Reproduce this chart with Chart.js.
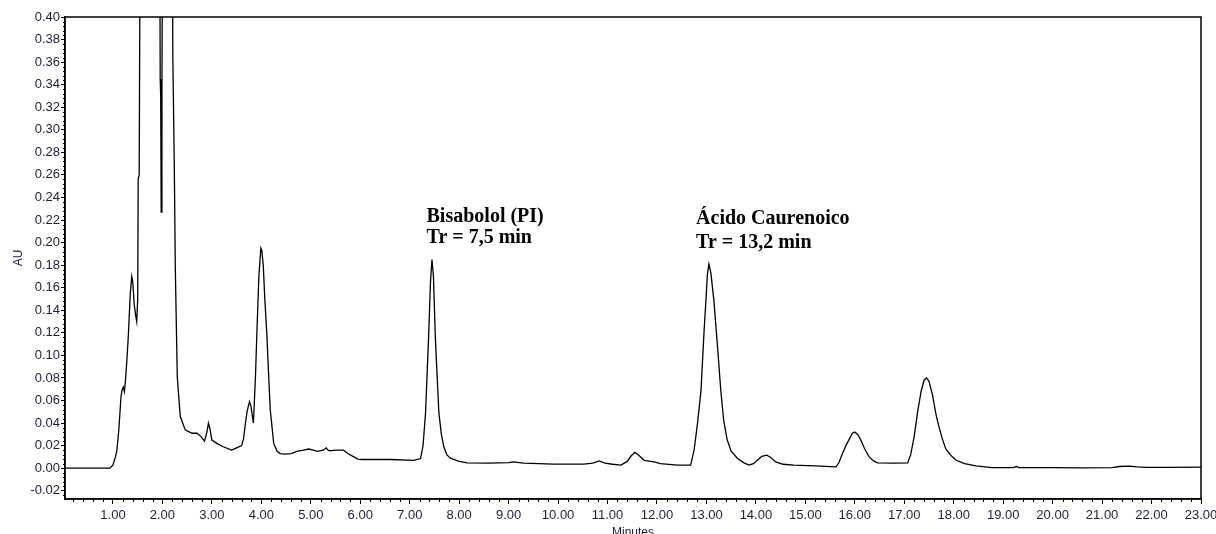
<!DOCTYPE html>
<html>
<head>
<meta charset="utf-8">
<script src="https://cdn.jsdelivr.net/npm/chart.js@4.4.1/dist/chart.umd.min.js"></script>
<style>
  html, body { margin: 0; padding: 0; background: #fff; }
  #wrap { width: 1216px; height: 534px; }
</style>
</head>
<body>
<div id="wrap"><canvas id="chromatogram"></canvas></div>
<script>
// retention time (minutes) and detector response (AU)
const timeMin = [
  0.03, 0.94, 1.00, 1.05, 1.08, 1.12, 1.16, 1.18, 1.21, 1.23, 1.25, 1.28, 1.31, 1.35, 1.38, 1.40,
  1.43, 1.46, 1.48, 1.50, 1.51, 1.53, 1.56, 1.75, 1.94, 1.955, 1.965, 1.975, 1.99, 2.01, 2.10, 2.19,
  2.21, 2.24, 2.26, 2.28, 2.30, 2.36, 2.46, 2.60, 2.70, 2.78, 2.85, 2.90, 2.93, 2.96, 3.00, 3.10,
  3.23, 3.40, 3.50, 3.60, 3.64, 3.67, 3.71, 3.76, 3.79, 3.84, 3.88, 3.91, 3.95, 3.99, 4.01, 4.04,
  4.07, 4.11, 4.15, 4.18, 4.25, 4.32, 4.38, 4.48, 4.60, 4.72, 4.85, 4.96, 5.05, 5.13, 5.25, 5.31,
  5.35, 5.39, 5.50, 5.66, 5.75, 5.87, 5.95, 6.04, 6.61, 7.08, 7.22, 7.27, 7.32, 7.38, 7.42, 7.45,
  7.48, 7.52, 7.59, 7.64, 7.69, 7.75, 7.82, 8.00, 8.16, 8.60, 9.00, 9.10, 9.30, 9.91, 10.52, 10.70,
  10.83, 10.95, 11.10, 11.27, 11.40, 11.48, 11.55, 11.62, 11.74, 11.94, 12.07, 12.41, 12.68, 12.75,
  12.82, 12.89, 12.95, 12.99, 13.02, 13.05, 13.09, 13.15, 13.22, 13.29, 13.35, 13.42, 13.50, 13.63,
  13.75, 13.86, 13.95, 14.03, 14.12, 14.22, 14.30, 14.40, 14.55, 14.77, 15.20, 15.62, 15.68, 15.75,
  15.82, 15.89, 15.95, 16.00, 16.06, 16.12, 16.20, 16.29, 16.38, 16.46, 16.80, 17.07, 17.13, 17.20,
  17.27, 17.34, 17.40, 17.45, 17.50, 17.57, 17.64, 17.70, 17.77, 17.84, 17.95, 18.05, 18.22, 18.45,
  18.77, 19.20, 19.27, 19.32, 20.00, 20.59, 21.20, 21.35, 21.55, 21.70, 21.90, 22.30, 23.00
];
const absorbance = [
  0.000, 0.000, 0.003, 0.010, 0.016, 0.035, 0.062, 0.069, 0.072, 0.068, 0.076, 0.095, 0.117, 0.155, 0.170, 0.165,
  0.145, 0.135, 0.130, 0.150, 0.256, 0.260, 0.600, 1.300, 0.600, 0.345, 0.330, 0.227, 0.330, 0.600, 0.900, 0.600,
  0.366, 0.268, 0.179, 0.130, 0.081, 0.046, 0.034, 0.031, 0.031, 0.028, 0.024, 0.032, 0.040, 0.035, 0.025, 0.022,
  0.019, 0.016, 0.018, 0.020, 0.026, 0.037, 0.050, 0.059, 0.055, 0.040, 0.080, 0.120, 0.170, 0.195, 0.193, 0.179,
  0.150, 0.120, 0.080, 0.052, 0.022, 0.015, 0.013, 0.0124, 0.013, 0.015, 0.016, 0.017, 0.016, 0.015, 0.016, 0.018,
  0.016, 0.0154, 0.016, 0.016, 0.013, 0.010, 0.008, 0.0077, 0.0077, 0.007, 0.0086, 0.020, 0.049, 0.114, 0.165, 0.185,
  0.170, 0.114, 0.049, 0.030, 0.019, 0.012, 0.0089, 0.006, 0.0047, 0.0045, 0.005, 0.0056, 0.0045, 0.0036, 0.0036, 0.0045,
  0.0065, 0.0045, 0.0035, 0.0027, 0.006, 0.011, 0.014, 0.012, 0.007, 0.0056, 0.004, 0.0027, 0.0027, 0.016,
  0.040, 0.069, 0.120, 0.149, 0.172, 0.181, 0.173, 0.149, 0.110, 0.069, 0.042, 0.025, 0.015, 0.0086,
  0.005, 0.0027, 0.004, 0.007, 0.0105, 0.0116, 0.0095, 0.0056, 0.0035, 0.0027, 0.002, 0.0012, 0.005, 0.013,
  0.020, 0.026, 0.031, 0.032, 0.030, 0.025, 0.017, 0.010, 0.0065, 0.0047, 0.0045, 0.0047, 0.012, 0.028,
  0.050, 0.068, 0.078, 0.080, 0.077, 0.065, 0.048, 0.037, 0.026, 0.017, 0.011, 0.007, 0.004, 0.002,
  0.0006, 0.0006, 0.0015, 0.0006, 0.0005, 0.0003, 0.0005, 0.0015, 0.0018, 0.0012, 0.0008, 0.0008, 0.001
];

// axis tick labels
const xTickValues = [1, 2, 3, 4, 5, 6, 7, 8, 9, 10, 11, 12, 13, 14, 15, 16, 17, 18, 19, 20, 21, 22, 23];
const yTickValues = [-0.02, 0.00, 0.02, 0.04, 0.06, 0.08, 0.10, 0.12, 0.14, 0.16, 0.18, 0.20,
  0.22, 0.24, 0.26, 0.28, 0.30, 0.32, 0.34, 0.36, 0.38, 0.40];

// peak annotations
const peakNames = ['Bisabolol (PI)', 'Ácido Caurenoico'];
const peakTimes = ['Tr = 7,5 min', 'Tr = 13,2 min'];

const labelFont = '12px "Liberation Sans", Arial, sans-serif';
const labelColor = '#1e1e3c';

// where the peak texts sit, in data units (left x, baseline of each line)
const noteSpots = [
  { x: 7.34, y1: 0.2187, y2: 0.2000 },
  { x: 12.79, y1: 0.2169, y2: 0.1953 }
];

const chromPlugin = {
  id: 'chromExtras',
  afterDraw: (chart) => {
    const ctx = chart.ctx;
    const area = chart.chartArea;
    const xs = chart.scales.x;
    const ys = chart.scales.y;

    ctx.save();
    ctx.strokeStyle = '#000';
    ctx.lineWidth = 1.5;
    ctx.strokeRect(area.left, area.top, area.right - area.left, area.bottom - area.top);

    // minor ticks
    ctx.lineWidth = 1;
    ctx.beginPath();
    for (let i = 1; i < 115; i++) {
      if (i % 5 === 0) continue;
      const px = Math.round(xs.getPixelForValue(i * 0.2)) + 0.5;
      ctx.moveTo(px, area.bottom);
      ctx.lineTo(px, area.bottom + 3);
    }
    for (let i = -6; i < 100; i++) {
      if (i % 5 === 0) continue;
      const py = Math.round(ys.getPixelForValue(i * 0.004)) + 0.5;
      ctx.moveTo(area.left, py);
      ctx.lineTo(area.left - 2, py);
    }
    ctx.stroke();

    // x axis title, partly cut by the bottom edge as in the original export
    ctx.fillStyle = labelColor;
    ctx.font = labelFont;
    ctx.textAlign = 'center';
    ctx.textBaseline = 'alphabetic';
    ctx.fillText('Minutes', (area.left + area.right) / 2, area.bottom + 37);

    // peak notes
    ctx.fillStyle = '#000';
    ctx.font = 'bold 20px "Liberation Serif", "Times New Roman", serif';
    ctx.textAlign = 'left';
    noteSpots.forEach((spot, i) => {
      const px = xs.getPixelForValue(spot.x);
      ctx.fillText(peakNames[i], px, ys.getPixelForValue(spot.y1));
      ctx.fillText(peakTimes[i], px, ys.getPixelForValue(spot.y2));
    });
    ctx.restore();
  }
};

const trace = timeMin.map((t, i) => ({ x: t, y: absorbance[i] }));

new Chart(document.getElementById('chromatogram'), {
  type: 'line',
  data: {
    datasets: [{
      data: trace,
      borderColor: '#000',
      borderWidth: 1.3,
      pointRadius: 0,
      tension: 0,
      fill: false
    }]
  },
  options: {
    responsive: true,
    maintainAspectRatio: false,
    animation: false,
    events: [],
    layout: {
      padding: { left: 0, right: 15, top: 17, bottom: 0 }
    },
    plugins: {
      legend: { display: false },
      tooltip: { enabled: false }
    },
    scales: {
      x: {
        type: 'linear',
        min: 0.03,
        max: 23,
        afterBuildTicks: (scale) => { scale.ticks = xTickValues.map(v => ({ value: v })); },
        afterFit: (scale) => { scale.height = 35; scale.paddingLeft = 0; scale.paddingRight = 0; },
        ticks: {
          autoSkip: false,
          maxRotation: 0,
          padding: 4,
          color: labelColor,
          font: { family: '"Liberation Sans", Arial, sans-serif', size: 13 },
          callback: (v) => Number(v).toFixed(2)
        },
        grid: { display: true, drawOnChartArea: false, drawTicks: true, tickLength: 5, tickColor: '#000', tickWidth: 1 },
        border: { display: true, color: '#000', width: 1.5 }
      },
      y: {
        type: 'linear',
        min: -0.0273,
        max: 0.40,
        afterBuildTicks: (scale) => { scale.ticks = yTickValues.map(v => ({ value: v })); },
        afterFit: (scale) => { scale.width = 65; scale.paddingTop = 0; scale.paddingBottom = 0; },
        title: {
          display: true,
          text: 'AU',
          color: labelColor,
          font: { family: '"Liberation Sans", Arial, sans-serif', size: 12 },
          padding: { top: 11, bottom: 0 }
        },
        ticks: {
          autoSkip: false,
          padding: 1,
          color: labelColor,
          font: { family: '"Liberation Sans", Arial, sans-serif', size: 13 },
          callback: (v) => Number(v).toFixed(2)
        },
        grid: { display: true, drawOnChartArea: false, drawTicks: true, tickLength: 4, tickColor: '#000', tickWidth: 1 },
        border: { display: true, color: '#000', width: 1.5 }
      }
    }
  },
  plugins: [chromPlugin]
});
</script>
</body>
</html>
